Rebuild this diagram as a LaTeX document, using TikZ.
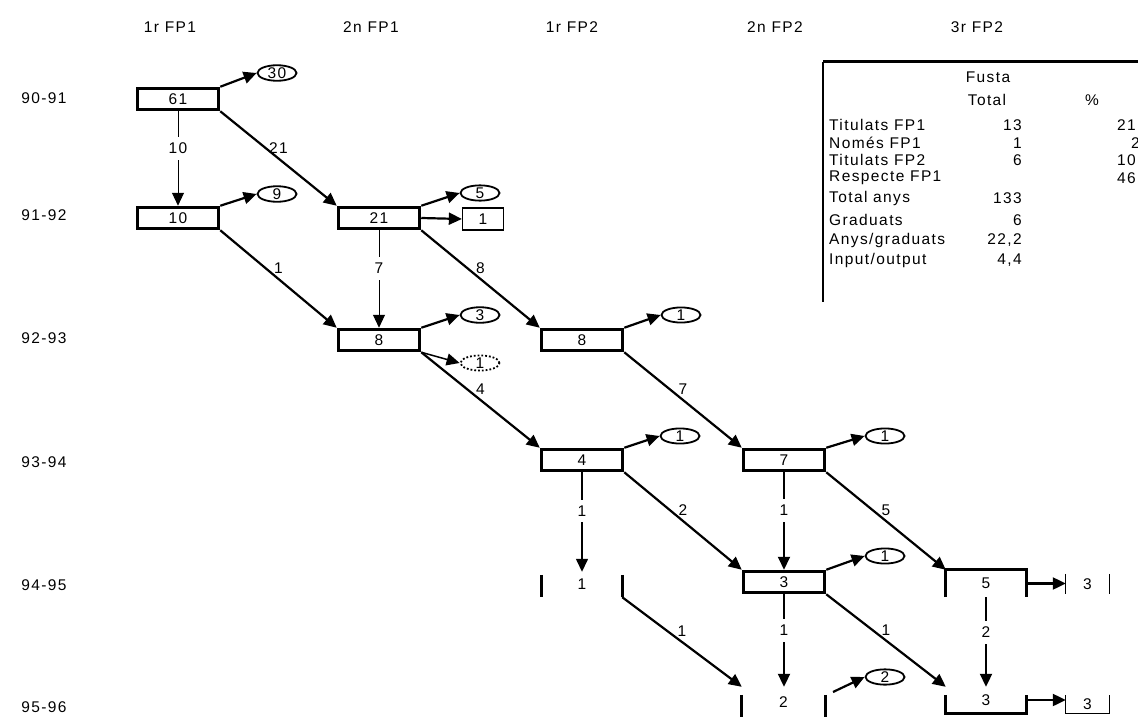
\documentclass[tikz,border=0pt]{standalone}
\usepackage{fontspec}
\setmainfont{Liberation Sans}[LetterSpace=9]
\usetikzlibrary{arrows.meta,shapes.geometric}
\begin{document}
\begin{tikzpicture}[x=1pt,y=-1pt,
  every node/.style={font=\fontsize{15.5}{18}\selectfont, inner sep=0pt},
  box/.style={draw, line width=3.5pt, minimum width=81pt, minimum height=21pt},
  oval/.style={draw, ellipse, line width=1.8pt, minimum width=39pt, minimum height=15pt},
  dotoval/.style={oval, dotted},
  smallbox/.style={draw, line width=1.3pt, minimum width=41pt, minimum height=22pt},
  bar/.style={line width=3.2pt},
  thinbar/.style={line width=1.3pt},
  tip/.style={-{Triangle[length=13pt,width=12pt]}},
  diag/.style={tip, line width=2.2pt},
  vthin/.style={tip, line width=1pt},
  vthick/.style={tip, line width=2pt},
  dlab/.style={above=4pt},
  vlab/.style={fill=white, inner xsep=2pt, inner ysep=6pt, pos=0.39},
  hdr/.style={},
  tlab/.style={anchor=west},
  tnum/.style={anchor=east}
]
\useasboundingbox (0,0) rectangle (1138,717);

% column headers
\node[hdr] (h1) at (170,27) {1r FP1};
\node[hdr] (h2) at (371,27) {2n FP1};
\node[hdr] (h3) at (572,27) {1r FP2};
\node[hdr] (h4) at (775,27) {2n FP2};
\node[hdr] (h5) at (977,27) {3r FP2};

% row labels
\node (r1) at (44,98) {90-91};
\node (r2) at (44,215) {91-92};
\node (r3) at (44,338) {92-93};
\node (r4) at (44,462) {93-94};
\node (r5) at (44,585) {94-95};
\node (r6) at (44,707) {95-96};

% boxes
\node[box] (b61) at (178,99) {61};
\node[box] (b10) at (178,218) {10};
\node[box] (b21) at (379,218) {21};
\node[box] (b8a) at (379,340) {8};
\node[box] (b8b) at (582,340) {8};
\node[box] (b4) at (582,460) {4};
\node[box] (b7) at (784,460) {7};
\node[box] (b3) at (784,582) {3};

% open boxes
\node[minimum width=80pt, minimum height=25pt] (o1) at (582,584.5) {1};
\node[minimum width=83pt, minimum height=30pt] (o2) at (783.5,702) {2};
\node[minimum width=80pt, minimum height=27pt] (o5) at (986,583.5) {5};
\node[minimum width=80pt, minimum height=26pt] (o3) at (986,700) {3};
\node[minimum width=43pt, minimum height=20pt] (t3a) at (1087.5,584) {3};
\node[minimum width=43pt, minimum height=18pt] (t3b) at (1087.5,704) {3};

\draw[bar] ([yshift=-3pt]o1.north west) -- (o1.south west);
\draw[bar] ([yshift=-3pt]o1.north east) -- (o1.south east);
\draw[bar] ([yshift=-8pt]o2.north west) -- (o2.south west);
\draw[bar] ([yshift=-8pt]o2.north east) -- (o2.south east);
\draw[bar] (o5.south west) -- (o5.north west) -- (o5.north east) -- (o5.south east);
\draw[bar] ([yshift=-8pt]o3.north west) -- (o3.south west) -- (o3.south east) -- ([yshift=-8pt]o3.north east);
\draw[thinbar] (t3a.north west) -- (t3a.south west);
\draw[thinbar] (t3a.north east) -- (t3a.south east);
\draw[thinbar] (t3b.north west) -- (t3b.south west) -- (t3b.south east) -- (t3b.north east);

% ovals
\node[oval] (e30) at (277,73) {30};
\node[oval] (e9) at (277,194) {9};
\node[oval] (e5) at (480,193) {5};
\node[smallbox] (s1) at (483,219) {1};
\node[oval] (e3) at (480,315) {3};
\node[dotoval] (ed1) at (480,363) {1};
\node[oval] (e1a) at (681,315) {1};
\node[oval] (e1b) at (680,436) {1};
\node[oval] (e1c) at (885,436) {1};
\node[oval] (e1d) at (885,556) {1};
\node[oval] (e2) at (885,677) {2};
\coordinate (c2) at (833,692);

% output arrows
\draw[diag] (b61.north east) -- (e30.west);
\draw[diag] (b10.north east) -- (e9.west);
\draw[diag] (b21.north east) -- (e5.west);
\draw[diag] (b21.east) -- (s1.west);
\draw[diag] (b8a.north east) -- (e3.west);
\draw[diag, line width=1.5pt] (b8a.south east) -- (ed1.west);
\draw[diag] (b8b.north east) -- (e1a.west);
\draw[diag] (b4.north east) -- (e1b.west);
\draw[diag] (b7.north east) -- (e1c.west);
\draw[diag] (b3.north east) -- (e1d.west);
\draw[diag] (c2) -- (e2.west);
\draw[diag] (o5.east) -- (t3a.west |- o5.east);
\draw[diag] (o3.east) -- (t3b.west |- o3.east);

% diagonal flows
\draw[diag] (b61.south east) -- node[dlab] {21} (b21.north west);
\draw[diag] (b10.south east) -- node[dlab] {1} (b8a.north west);
\draw[diag] (b21.south east) -- node[dlab] {8} (b8b.north west);
\draw[diag] (b8a.south east) -- node[dlab] {4} (b4.north west);
\draw[diag] (b8b.south east) -- node[dlab] {7} (b7.north west);
\draw[diag] (b4.south east) -- node[dlab] {2} (b3.north west);
\draw[diag] (b7.south east) -- node[dlab] {5} (o5.north west);
\draw[diag] (o1.south east) -- node[dlab] {1} (o2.north west);
\draw[diag] (b3.south east) -- node[dlab] {1} (o3.north west);

% vertical flows
\draw[vthin] (b61.south) -- node[vlab] {10} (b10.north);
\draw[vthin] (b21.south) -- node[vlab] {7} (b8a.north);
\draw[vthin, line width=1.4pt] (b4.south) -- node[vlab] {1} (o1.north);
\draw[vthick] (b7.south) -- node[vlab] {1} (b3.north);
\draw[vthick] (b3.south) -- node[vlab] {1} (b3.south |- o2.north);
\draw[vthick] (o5.south) -- node[vlab] {2} (o3.north);

% table
\coordinate (tl) at (823,62);
\coordinate (tr) at (1140,62);
\coordinate (bl) at (823,302);
\draw[line width=3pt] (tl) -- (tr);
\draw[line width=1.8pt] (tl) -- (bl);
\node (tf) at (988,77) {Fusta};
\node (tt) at (987,100) {Total};
\node (tp) at (1092,100) {\%};
\node[tlab] (l1) at (829,125) {Titulats FP1};
\node[tlab] (l2) at (829,143) {Només FP1};
\node[tlab] (l3) at (829,160) {Titulats FP2};
\node[tlab] (l4) at (829,178) {Respecte FP1};
\node[tlab] (l5) at (829,198) {Total anys};
\node[tlab] (l6) at (829,220) {Graduats};
\node[tlab] (l7) at (829,240) {Anys/graduats};
\node[tlab] (l8) at (829,260) {Input/output};
\node[tnum] (n1) at (1022,125) {13};
\node[tnum] (n2) at (1022,143) {1};
\node[tnum] (n3) at (1022,160) {6};
\node[tnum] (n5) at (1022,198) {133};
\node[tnum] (n6) at (1022,220) {6};
\node[tnum] (n7) at (1022,240) {22,2};
\node[tnum] (n8) at (1022,260) {4,4};
\node[anchor=west] (p1) at (1117,125) {21};
\node[anchor=west] (p2) at (1131,143) {2};
\node[anchor=west] (p3) at (1117,160) {10};
\node[anchor=west] (p4) at (1117,178) {46};
\end{tikzpicture}
\end{document}
